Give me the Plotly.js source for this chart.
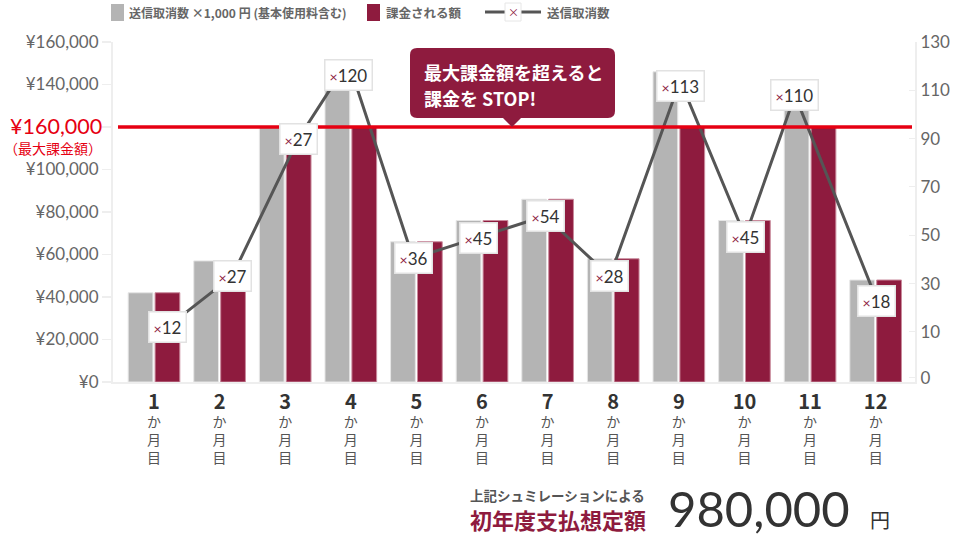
<!DOCTYPE html>
<html><head><meta charset="utf-8">
<script src="https://cdn.plot.ly/plotly-3.0.1.min.js"></script>
<style>html,body{margin:0;padding:0;background:#fff}#chart{width:960px;height:540px}</style>
</head><body><div id="chart"></div>
<script>
// ---- data ----
const months = [1,2,3,4,5,6,7,8,9,10,11,12];
const monthLabels = ['1','2','3','4','5','6','7','8','9','10','11','12'];
const sentAmount = [42000,57000,120000,150000,66000,76000,86000,58000,146000,76000,141000,48000];
const chargedAmount = [42000,57000,120000,120000,66000,76000,86000,58000,120000,76000,120000,48000];
const cancelCounts = [12,27,27,120,36,45,54,28,113,45,110,18];
const linePos = [1.2,2.19,3.2,3.96,4.95,5.94,6.96,7.95,9.02,10.01,10.77,12.02];
const lineLevel = [12,33,90,122,40.5,49,58,33,114,49.5,108,23];
const leftTickVals = [0,20000,40000,60000,80000,100000,120000,140000,160000];
const leftTickText = ['¥0','¥20,000','¥40,000','¥60,000','¥80,000','¥100,000','','¥140,000','¥160,000'];
const rightTickVals = [-9,10,30,50,70,90,110,130];
const rightTickText = ['0','10','30','50','70','90','110','130'];
const capValue = 120000;

// ---- geometry helpers ----
const L=113, R=915, T=42, B=382;
const px = x => (x-L)/(R-L);
const py = y => (B-y)/(B-T);
const JP = '"Noto Sans CJK JP", "Noto Sans", sans-serif';
const NUM = 'Lato, "Noto Sans", sans-serif';
const WINE = '#8e1b3e';

const traces = [
  {type:'bar', x:months, y:sentAmount, name:'送信取消数', marker:{color:'#b4b4b4', line:{color:'#e6e6e6', width:1}}, hoverinfo:'skip'},
  {type:'bar', x:months, y:chargedAmount, name:'課金される額', marker:{color:WINE, line:{color:'#c98a9c', width:1}}, hoverinfo:'skip'},
  {type:'scatter', mode:'lines', x:linePos, y:lineLevel, yaxis:'y2', line:{color:'#555', width:3}, hoverinfo:'skip'}
];

const annotations = [];
// count labels
cancelCounts.forEach((c,i)=>{
  const isPeak = c === Math.max(...cancelCounts);
  annotations.push({x:linePos[i], y:lineLevel[i], xref:'x', yref:'y2', yshift: isPeak ? -14 : (i===8 ? -5 : 0),
    text:'<span style="color:'+WINE+';font-size:14px">×</span>'+c, showarrow:false,
    font:{family:NUM, size:17, color:'#333'}, bgcolor:'#fff', bordercolor:'#e2e2e2', borderwidth:1.5, borderpad:4});
});
// red cap label
annotations.push({x:px(104), y:py(126), xref:'paper', yref:'paper', xanchor:'right', yanchor:'middle', showarrow:false,
  text:'¥160,000', font:{family:NUM, size:21.5, color:'#e60012'}});
annotations.push({x:px(104), y:py(148), xref:'paper', yref:'paper', xanchor:'right', yanchor:'middle', showarrow:false,
  text:'（最大課金額）', font:{family:JP, size:14, color:'#e60012'}});
// callout text
annotations.push({x:px(422), y:py(72), xref:'paper', yref:'paper', xanchor:'left', yanchor:'middle', showarrow:false,
  text:'<b>最大課金額を超えると</b>', font:{family:JP, size:18, color:'#fff'}});
annotations.push({x:px(422), y:py(98), xref:'paper', yref:'paper', xanchor:'left', yanchor:'middle', showarrow:false,
  text:'<b>課金を STOP!</b>', font:{family:JP, size:18, color:'#fff'}});
// legend text
annotations.push({x:px(127), y:py(12), xref:'paper', yref:'paper', xanchor:'left', yanchor:'middle', showarrow:false,
  text:'<b>送信取消数 ×1,000 円 (基本使用料含む)</b>', font:{family:JP, size:12, color:'#666'}});
annotations.push({x:px(384), y:py(12), xref:'paper', yref:'paper', xanchor:'left', yanchor:'middle', showarrow:false,
  text:'<b>課金される額</b>', font:{family:JP, size:12.5, color:'#666'}});
annotations.push({x:px(545), y:py(12), xref:'paper', yref:'paper', xanchor:'left', yanchor:'middle', showarrow:false,
  text:'<b>送信取消数</b>', font:{family:JP, size:12.5, color:'#666'}});
annotations.push({x:px(513), y:py(12), xref:'paper', yref:'paper', xanchor:'center', yanchor:'middle', showarrow:false,
  text:'×', font:{family:JP, size:11, color:WINE}});
// bottom total
annotations.push({x:px(647), y:py(495), xref:'paper', yref:'paper', xanchor:'right', yanchor:'middle', showarrow:false,
  text:'<b>上記シュミレーションによる</b>', font:{family:JP, size:13.5, color:'#555'}});
annotations.push({x:px(648), y:py(519), xref:'paper', yref:'paper', xanchor:'right', yanchor:'middle', showarrow:false,
  text:'<b>初年度支払想定額</b>', font:{family:JP, size:22, color:WINE}});
annotations.push({x:px(666), y:py(508), xref:'paper', yref:'paper', xanchor:'left', yanchor:'middle', showarrow:false,
  text:'980,000', font:{family:NUM, size:49, color:'#333', weight:400}});
annotations.push({x:px(868), y:py(519), xref:'paper', yref:'paper', xanchor:'left', yanchor:'middle', showarrow:false,
  text:'円', font:{family:JP, size:20, color:'#333'}});

// rounded callout path
function roundRect(x0,y0,x1,y1,r,tipX,tipW,tipH){
  const P=(x,y)=>px(x)+','+py(y);
  return 'M'+P(x0+r,y0)+' L'+P(x1-r,y0)+' Q'+P(x1,y0)+' '+P(x1,y0+r)+
    ' L'+P(x1,y1-r)+' Q'+P(x1,y1)+' '+P(x1-r,y1)+
    ' L'+P(tipX+tipW/2,y1)+' L'+P(tipX,y1+tipH)+' L'+P(tipX-tipW/2,y1)+
    ' L'+P(x0+r,y1)+' Q'+P(x0,y1)+' '+P(x0,y1-r)+
    ' L'+P(x0,y0+r)+' Q'+P(x0,y0)+' '+P(x0+r,y0)+' Z';
}

const shapes = [
  {type:'line', xref:'paper', yref:'y', x0:px(118), x1:px(912), y0:capValue, y1:capValue, line:{color:'#e60012', width:3.5}, layer:'above'},
  {type:'path', xref:'paper', yref:'paper', path:roundRect(410,48,615,118,7,512,18,9), fillcolor:WINE, line:{width:0}, layer:'above'},
  // legend swatches
  {type:'rect', xref:'paper', yref:'paper', x0:px(111), x1:px(124), y0:py(4), y1:py(21), fillcolor:'#b4b4b4', line:{width:0}},
  {type:'rect', xref:'paper', yref:'paper', x0:px(367), x1:px(380), y0:py(4), y1:py(21), fillcolor:WINE, line:{width:0}},
  {type:'line', xref:'paper', yref:'paper', x0:px(485), x1:px(541), y0:py(12), y1:py(12), line:{color:'#555', width:3}},
  {type:'rect', xref:'paper', yref:'paper', x0:px(505), x1:px(521), y0:py(3), y1:py(21), fillcolor:'#fff', line:{color:'#e6e6e6', width:1}}
];

const tickText = monthLabels.map(m => '<b><span style="font-size:20px;color:#333">'+m+'</span></b><br>か<br>月<br>目');

const layout = {
  width:960, height:540, margin:{l:L, r:960-R, t:T, b:540-B, pad:0},
  paper_bgcolor:'#fff', plot_bgcolor:'#fff', showlegend:false,
  barmode:'group', bargap:0.18, bargroupgap:0.08,
  xaxis:{range:[0.375,12.6], tickvals:months, ticktext:tickText, showgrid:false, zeroline:false,
    showline:true, linecolor:'#eeeeee', linewidth:2, ticks:'', ticklabelstandoff:8,
    tickfont:{family:JP, size:14, color:'#555'}, automargin:false},
  yaxis:{range:[0,160000], tickvals:leftTickVals, ticktext:leftTickText, showgrid:false, zeroline:false,
    showline:true, linecolor:'#eeeeee', linewidth:2, ticks:'outside', ticklen:9, tickcolor:'#eeeeee', tickwidth:1.5,
    tickfont:{family:NUM, size:17, color:'#666'}, automargin:false},
  yaxis2:{overlaying:'y', side:'right', range:[-10.7,130], tickvals:rightTickVals, ticktext:rightTickText,
    showgrid:false, zeroline:false, showline:true, linecolor:'#eeeeee', linewidth:2, ticks:'inside', ticklen:6,
    tickcolor:'#eeeeee', tickfont:{family:NUM, size:17, color:'#666'}, automargin:false},
  annotations:annotations, shapes:shapes
};

Plotly.newPlot('chart', traces, layout, {staticPlot:true, displayModeBar:false});
</script></body></html>
